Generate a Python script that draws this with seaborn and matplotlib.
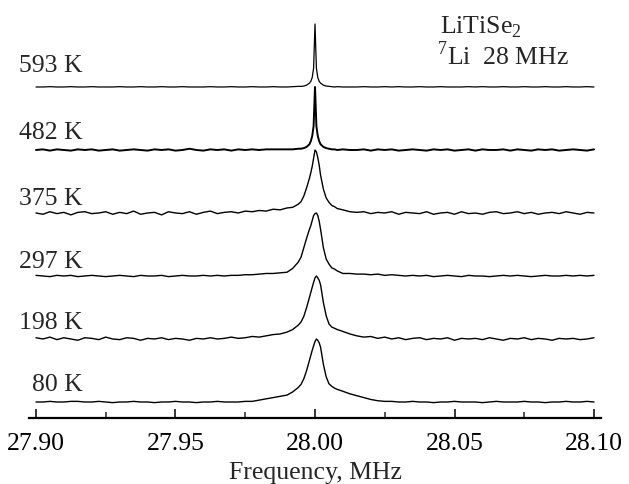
import numpy as np
import pandas as pd
import matplotlib
matplotlib.use("Agg")
import matplotlib.pyplot as plt
import seaborn as sns

# frequency grid (MHz): coarse on the baselines, fine round the line
freq_left = [27.9000, 27.9025, 27.9050, 27.9075, 27.9100, 27.9125, 27.9150, 27.9175, 27.9200, 27.9225, 27.9250, 27.9275,
             27.9300, 27.9325, 27.9350, 27.9375, 27.9400, 27.9425, 27.9450, 27.9475, 27.9500, 27.9525, 27.9550, 27.9575,
             27.9600, 27.9625, 27.9650, 27.9675, 27.9700, 27.9725, 27.9750, 27.9775, 27.9800, 27.9825, 27.9850, 27.9875]
freq_peak = [27.9900, 27.9920, 27.9940, 27.9950, 27.9960, 27.9970, 27.9980, 27.9985, 27.9990, 27.9995, 28.0000, 28.0005,
             28.0010, 28.0015, 28.0020, 28.0030, 28.0040, 28.0050, 28.0060, 28.0070, 28.0080, 28.0100, 28.0125]
freq_right = [28.0150, 28.0175, 28.0200, 28.0225, 28.0250, 28.0275, 28.0300, 28.0325, 28.0350, 28.0375, 28.0400, 28.0425,
              28.0450, 28.0475, 28.0500, 28.0525, 28.0550, 28.0575, 28.0600, 28.0625, 28.0650, 28.0675, 28.0700, 28.0725,
              28.0750, 28.0775, 28.0800, 28.0825, 28.0850, 28.0875, 28.0900, 28.0925, 28.0950, 28.0975, 28.1000]

temps = ["80 K", "198 K", "297 K", "375 K", "482 K", "593 K"]

# normalised intensities (peak = 1)
k80_left = [0.00, 0.00, 0.01, 0.00, 0.00, 0.01, 0.01, 0.00, 0.00, 0.01, 0.00, -0.01,
            0.00, 0.00, 0.01, 0.00, 0.00, -0.01, 0.00, 0.00, 0.01, 0.00, 0.00, -0.01,
            0.00, 0.00, 0.01, 0.00, 0.00, 0.00, 0.01, 0.01, 0.03, 0.05, 0.07, 0.09]
k80_peak = [0.11, 0.16, 0.23, 0.28, 0.37, 0.50, 0.66, 0.74, 0.82, 0.89, 0.96, 1.00,
            0.98, 0.94, 0.87, 0.60, 0.40, 0.29, 0.25, 0.22, 0.20, 0.17, 0.13]
k80_right = [0.10, 0.07, 0.04, 0.02, 0.01, 0.01, 0.00, 0.00, 0.01, 0.00, 0.00, -0.01,
             0.00, 0.00, 0.01, 0.00, 0.00, 0.00, -0.01, 0.00, 0.01, 0.00, 0.00, 0.00,
             0.01, 0.00, 0.00, -0.01, 0.00, 0.00, 0.01, 0.00, 0.00, 0.01, 0.00]

k198_left = [0.02, 0.00, 0.03, -0.01, 0.02, 0.00, -0.02, 0.02, 0.01, -0.01, 0.03, 0.00,
             -0.01, 0.02, 0.01, -0.02, 0.01, 0.00, 0.02, -0.01, 0.01, 0.00, -0.02, 0.01,
             0.00, 0.02, 0.00, 0.01, 0.03, 0.01, 0.02, 0.04, 0.03, 0.05, 0.07, 0.08]
k198_peak = [0.11, 0.15, 0.22, 0.27, 0.36, 0.50, 0.66, 0.74, 0.82, 0.90, 0.97, 1.00,
             0.97, 0.93, 0.86, 0.58, 0.37, 0.24, 0.19, 0.17, 0.15, 0.12, 0.08]
k198_right = [0.05, 0.03, 0.04, 0.01, 0.03, 0.00, 0.02, -0.01, 0.01, 0.02, -0.01, 0.01,
              0.00, 0.02, -0.02, 0.01, 0.00, 0.01, -0.01, 0.02, 0.00, -0.02, 0.01, 0.00,
              0.02, -0.01, 0.01, 0.00, -0.02, 0.01, 0.00, 0.01, -0.01, 0.00, 0.02]

k297_left = [0.01, 0.00, -0.01, 0.01, 0.00, 0.01, -0.01, 0.00, 0.01, 0.00, -0.01, 0.00,
             0.01, 0.00, -0.01, 0.01, 0.00, 0.00, 0.01, -0.01, 0.00, 0.01, 0.00, 0.00,
             0.01, 0.00, 0.01, 0.00, 0.01, 0.01, 0.02, 0.02, 0.03, 0.04, 0.04, 0.05]
k297_peak = [0.06, 0.12, 0.22, 0.30, 0.45, 0.60, 0.74, 0.80, 0.88, 0.96, 0.99, 1.00,
             0.96, 0.87, 0.74, 0.45, 0.27, 0.19, 0.13, 0.11, 0.08, 0.04, 0.04]
k297_right = [0.03, 0.03, 0.02, 0.03, 0.01, 0.02, 0.01, 0.00, 0.01, 0.00, 0.01, -0.01,
              0.00, 0.01, 0.00, -0.01, 0.01, 0.00, 0.00, -0.01, 0.00, 0.01, 0.00, 0.01,
              0.00, -0.01, 0.00, 0.01, 0.00, 0.00, 0.01, 0.00, 0.01, 0.00, 0.01]

k375_left = [0.00, -0.02, 0.02, -0.01, 0.01, -0.03, 0.01, 0.02, -0.01, 0.00, 0.02, -0.02,
             0.01, -0.01, 0.03, -0.02, 0.00, 0.01, -0.03, 0.02, 0.00, -0.01, 0.02, -0.02,
             0.01, 0.03, -0.01, 0.01, 0.02, 0.00, 0.03, 0.02, 0.04, 0.03, 0.06, 0.05]
k375_peak = [0.08, 0.09, 0.14, 0.18, 0.27, 0.40, 0.55, 0.64, 0.74, 0.87, 1.00, 0.97,
             0.88, 0.76, 0.60, 0.38, 0.24, 0.17, 0.12, 0.10, 0.07, 0.05, 0.02]
k375_right = [0.01, 0.02, -0.01, 0.01, 0.00, 0.02, -0.02, 0.01, 0.00, -0.01, 0.02, -0.02,
              0.00, 0.01, -0.02, 0.02, -0.01, 0.00, -0.02, 0.01, 0.02, -0.01, 0.00, 0.02,
              -0.01, 0.01, -0.02, 0.00, 0.01, -0.01, 0.02, 0.00, -0.02, 0.01, 0.00]

k482_left = [0.00, 0.01, -0.01, 0.01, 0.00, -0.01, 0.01, 0.00, 0.01, -0.01, 0.00, 0.01,
             -0.01, 0.00, 0.01, 0.00, -0.01, 0.01, 0.00, 0.01, -0.01, 0.00, 0.02, 0.00,
             -0.01, 0.01, 0.00, 0.01, -0.01, 0.01, 0.00, 0.01, 0.00, 0.01, 0.01, 0.01]
k482_peak = [0.01, 0.01, 0.02, 0.02, 0.03, 0.05, 0.09, 0.14, 0.22, 0.38, 1.00, 0.38,
             0.22, 0.14, 0.09, 0.05, 0.03, 0.02, 0.01, 0.01, 0.00, 0.01, 0.00]
k482_right = [0.00, 0.01, -0.01, 0.01, 0.00, 0.01, -0.01, 0.00, 0.01, 0.00, -0.01, 0.01,
              0.00, 0.01, -0.01, 0.00, 0.01, -0.01, 0.01, 0.00, 0.00, 0.01, -0.01, 0.01,
              0.00, -0.01, 0.01, 0.00, 0.01, -0.01, 0.00, 0.01, 0.00, -0.01, 0.01]

k593_left = [0.000, 0.000, 0.005, 0.000, 0.000, 0.005, 0.000, 0.000, 0.005, 0.000, 0.000, 0.000,
             0.005, 0.000, 0.000, 0.005, 0.000, 0.000, 0.005, 0.000, 0.000, 0.005, 0.000, 0.000,
             0.000, 0.005, 0.000, 0.000, 0.005, 0.000, 0.000, 0.005, 0.000, 0.000, 0.005, 0.000]
k593_peak = [0.00, 0.005, 0.01, 0.01, 0.015, 0.03, 0.06, 0.09, 0.15, 0.30, 1.00, 0.30,
             0.15, 0.09, 0.06, 0.03, 0.015, 0.01, 0.005, 0.00, 0.005, 0.00, 0.00]
k593_right = [0.000, 0.005, 0.000, 0.000, 0.005, 0.000, 0.005, 0.000, 0.000, 0.005, 0.000, 0.000,
              0.005, 0.000, 0.000, 0.000, 0.005, 0.000, 0.005, 0.000, 0.000, 0.005, 0.000, 0.000,
              0.005, 0.000, 0.000, 0.005, 0.000, 0.000, 0.005, 0.000, 0.000, 0.005, 0.000]

spectra = [
    (k80_left, k80_peak, k80_right),
    (k198_left, k198_peak, k198_right),
    (k297_left, k297_peak, k297_right),
    (k375_left, k375_peak, k375_right),
    (k482_left, k482_peak, k482_right),
    (k593_left, k593_peak, k593_right),
]

freq = freq_left + freq_peak + freq_right
rows = []
for i, (t, parts) in enumerate(zip(temps, spectra)):
    y = parts[0] + parts[1] + parts[2]
    for f, v in zip(freq, y):
        rows.append({"freq": f, "intensity": v, "temp": t, "stacked": v + i})
df = pd.DataFrame(rows)

sns.set_theme(style="white")
plt.rcParams["font.family"] = ["Liberation Serif", "DejaVu Serif"]
plt.rcParams["mathtext.fontset"] = "custom"
plt.rcParams["mathtext.rm"] = "Liberation Serif"

FS = 18.5
fig = plt.figure(figsize=(6.29, 4.84), dpi=100)
ax = fig.add_axes([29 / 629, 66 / 484, 572 / 629, 408 / 484])

widths = [1.0, 1.0, 1.0, 1.0, 1.4, 0.9]
for i, t in enumerate(temps):
    sns.lineplot(data=df[df["temp"] == t], x="freq", y="stacked", color="black",
                 lw=widths[i], sort=False, estimator=None, ax=ax)

# temperature labels
label_dy = [0.17, 0.16, 0.13, 0.13, 0.18, 0.24]
for i, t in enumerate(temps):
    ax.text(27.9168, i + label_dy[i], t, ha="right", va="baseline", fontsize=FS)

ax.text(0.7185, 0.943, r"LiTiSe$_2$", transform=ax.transAxes, fontsize=FS, va="baseline")
ax.text(0.714, 0.865, r"$^7$Li  28 MHz", transform=ax.transAxes, fontsize=FS, va="baseline")

ax.set_xlim(27.8975, 28.1025)
ax.set_ylim(-0.254, 6.222)
ax.set_xticks([27.90, 27.95, 28.00, 28.05, 28.10])
ax.set_xticklabels(["27.90", "27.95", "28.00", "28.05", "28.10"])
ax.set_xticks([27.925, 27.975, 28.025, 28.075], minor=True)
ax.set_yticks([])
ax.set_ylabel("")
ax.set_xlabel("Frequency, MHz", fontsize=FS, labelpad=5)
ax.tick_params(axis="x", which="major", direction="in", length=6.5, width=1.1,
               labelsize=FS, pad=11, colors="black", bottom=True)
ax.tick_params(axis="x", which="minor", direction="in", length=4.3, width=1.1, bottom=True)
for s in ["top", "left", "right"]:
    ax.spines[s].set_visible(False)
ax.spines["bottom"].set_color("black")
ax.spines["bottom"].set_linewidth(1.6)
ax.patch.set_alpha(0)

fig.savefig("out.png", dpi=100)
